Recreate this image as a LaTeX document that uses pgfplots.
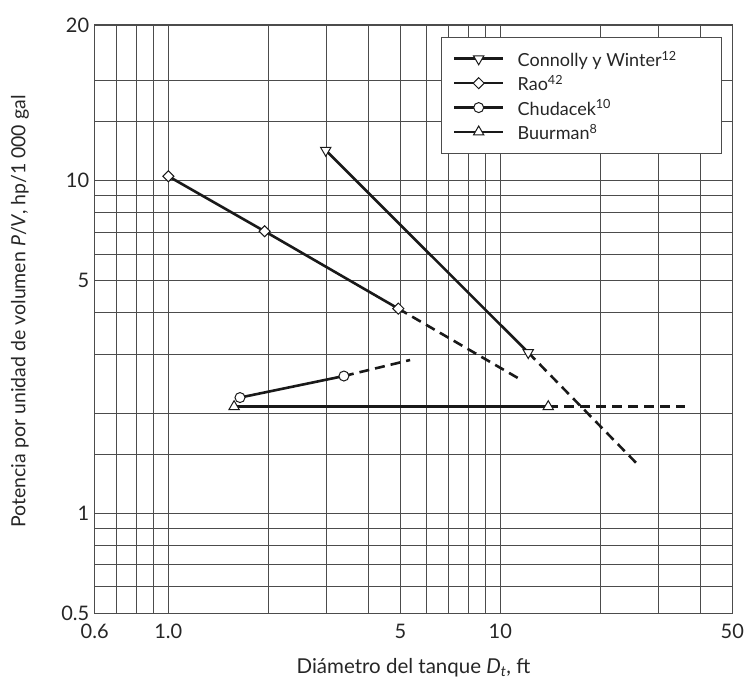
\documentclass[border=0pt]{standalone}
\usepackage{fontspec}
\setmainfont{Lato}
\usepackage{pgfplots}
\pgfplotsset{compat=1.18}
\begin{document}
\begin{tikzpicture}
\begin{axis}[
  name=ax,
  scale only axis, width=637.6bp, height=588.3bp,
  xmode=log, ymode=log,
  xmin=0.6, xmax=50, ymin=0.5, ymax=29.35,
  xtick={0.6,1,5,10,50}, xticklabels={0.6,1.0,5,10,50},
  ytick={0.5,1,5,10,29.35}, yticklabels={0.5,1,5,10,20},
  minor xtick={0.7,0.8,0.9,2,3,4,6,7,8,9,20,30,40},
  minor ytick={0.6,0.7,0.8,0.9,1.5,2,3,4,6,7,8,9,15,20},
  grid=both,
  major grid style={black!70, line width=1bp},
  minor grid style={black!70, line width=1bp},
  axis line style={black!70, line width=1.2bp},
  tick style={draw=none},
  major tick length=0pt, minor tick length=0pt,
  /pgf/number format/assume math mode=true,
  tick label style={font=\fontsize{20bp}{24bp}\selectfont, text=black!85},
  xticklabel style={yshift=-7bp},
  yticklabel style={xshift=-2bp},
  xlabel={Diámetro del tanque \textit{D}\textsubscript{\textit{t}}, ft},
  ylabel={Potencia por unidad de volumen \textit{P}/\textit{V}, hp/1 000 gal},
  every axis x label/.style={at={(axis description cs:0.5,0)}, anchor=base, yshift=-60.5bp, font=\fontsize{20.5bp}{24bp}\selectfont, text=black!85},
  every axis y label/.style={at={(axis description cs:0,0.5)}, xshift=-74.7bp, yshift=7.7bp, rotate=90, anchor=center, font=\fontsize{19.5bp}{24bp}\selectfont, text=black!85},
  legend style={at={(1,1)}, anchor=north east, xshift=-10.6bp, yshift=-11.7bp,
    draw=black!70, line width=1.2bp, fill=white,
    font=\fontsize{18bp}{22bp}\selectfont, text=black!85,
    inner xsep=11bp, inner ysep=12bp, row sep=5.4bp, column sep=11.2bp,
    nodes={inner sep=2bp, text height=15bp, text depth=0bp},
    cells={anchor=west}},
  legend image code/.code={\draw[mark repeat=2,mark phase=2,#1] plot coordinates {(0bp,0bp) (24.5bp,0bp) (49bp,0bp)};},
]
% dashed extensions
\addplot[forget plot, black!90, line width=2.6bp, dash pattern=on 10bp off 6bp] coordinates {(12.14,3.04) (26.2,1.387)};
\addplot[forget plot, black!90, line width=2.6bp, dash pattern=on 10bp off 6bp] coordinates {(4.93,4.12) (11.6,2.51)};
\addplot[forget plot, black!90, line width=2.6bp, dash pattern=on 10bp off 6bp] coordinates {(3.38,2.584) (5.35,2.887)};
\addplot[forget plot, black!90, line width=2.6bp, dash pattern=on 10bp off 6bp] coordinates {(13.95,2.09) (36.0,2.09)};
% solid series
\addplot[black!90, line width=2.6bp, mark=triangle*, mark size=6bp, mark options={fill=white, line width=1bp, rotate=180, solid}] coordinates {(2.98,12.33) (12.14,3.04)};
\addlegendentry{Connolly y Winter\textsuperscript{12}\hspace*{31.4bp}}
\addplot[black!90, line width=2.6bp, mark=square*, mark size=3.9bp, mark options={fill=white, line width=1bp, rotate=45, solid}] coordinates {(1.0,10.3) (1.95,7.04) (4.93,4.12)};
\addlegendentry{Rao\textsuperscript{42}}
\addplot[black!90, line width=2.6bp, mark=*, mark size=5bp, mark options={fill=white, line width=1bp, solid}] coordinates {(1.644,2.226) (3.38,2.584)};
\addlegendentry{Chudacek\textsuperscript{10}}
\addplot[black!90, line width=2.6bp, mark=triangle*, mark size=6bp, mark options={fill=white, line width=1bp, solid}] coordinates {(1.578,2.09) (13.95,2.09)};
\addlegendentry{Buurman\textsuperscript{8}}
\end{axis}
\pgfresetboundingbox
\path ([shift={(-94.7bp,-66.7bp)}]ax.south west) rectangle ([shift={(14.7bp,25bp)}]ax.north east);
\end{tikzpicture}
\end{document}
